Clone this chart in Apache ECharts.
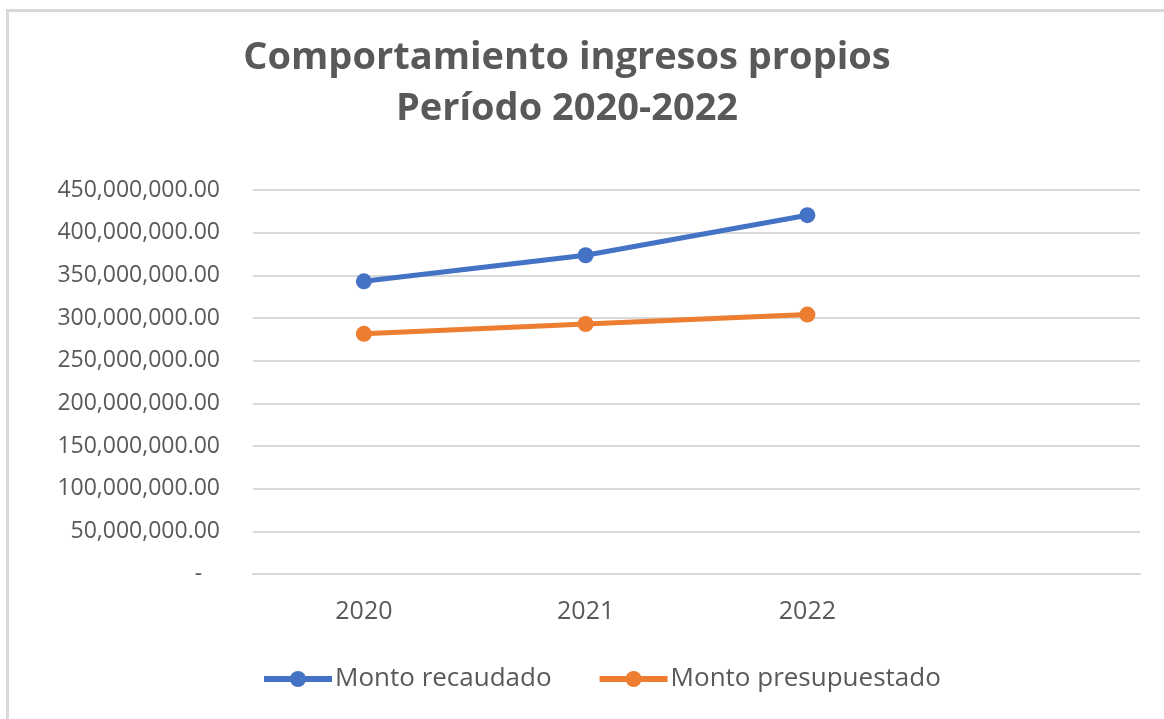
<!DOCTYPE html>
<html>
<head>
<meta charset="utf-8">
<title>Comportamiento ingresos propios</title>
<script src="https://cdn.jsdelivr.net/npm/echarts@6/dist/echarts.min.js"></script>
<style>
  html, body { margin: 0; padding: 0; background: #fff; }
  #chart { width: 1164px; height: 719px; }
</style>
</head>
<body>
<div id="chart"></div>
<script>
// datos
var years = ['2020', '2021', '2022', ''];
var montoRecaudado = [343000000, 373500000, 420500000, null];
var montoPresupuestado = [281500000, 293000000, 304000000, null];
var seriesNames = ['Monto recaudado', 'Monto presupuestado'];

var textColor = '#595959';
var gridColor = '#d9d9d9';

function fmtMoney(v) {
  if (v === 0) return '-   ';
  var s = v.toFixed(2);
  var parts = s.split('.');
  parts[0] = parts[0].replace(/\B(?=(\d{3})+(?!\d))/g, ',');
  return parts.join('.');
}

var chart = echarts.init(document.getElementById('chart'));

var option = {
  backgroundColor: '#fff',
  animation: false,
  textStyle: { fontFamily: 'Open Sans' },
  graphic: [{
    type: 'rect',
    shape: { x: 7.5, y: 10.5, width: 1170, height: 730 },
    style: { fill: 'none', stroke: gridColor, lineWidth: 3 },
    silent: true
  }],
  title: {
    text: 'Comportamiento ingresos propios\nPeríodo 2020-2022',
    left: 562,
    textAlign: 'center',
    top: 28,
    textStyle: {
      color: textColor,
      fontSize: 38,
      fontWeight: 'bold',
      fontFamily: 'Open Sans',
      lineHeight: 51
    }
  },
  legend: {
    data: seriesNames,
    bottom: 22,
    left: 256,
    itemWidth: 68,
    itemHeight: 20,
    itemGap: 45,
    lineStyle: { width: 6 },
    textStyle: { color: textColor, fontSize: 26, fontFamily: 'Open Sans', padding: [0, 0, 0, -2] }
  },
  grid: {
    left: 253,
    right: 24,
    top: 190,
    bottom: 145,
    containLabel: false
  },
  xAxis: {
    type: 'category',
    data: years,
    boundaryGap: true,
    axisLine: { show: true, lineStyle: { color: gridColor, width: 2 } },
    axisTick: { show: false },
    axisLabel: { color: textColor, fontSize: 25, margin: 25 }
  },
  yAxis: {
    type: 'value',
    min: 0,
    max: 450000000,
    interval: 50000000,
    axisLine: { show: false },
    axisTick: { show: false },
    axisLabel: {
      color: textColor,
      fontSize: 23,
      margin: 33,
      formatter: fmtMoney
    },
    splitLine: { lineStyle: { color: gridColor, width: 2 } }
  },
  series: [
    {
      name: seriesNames[0],
      type: 'line',
      data: montoRecaudado,
      symbol: 'circle',
      symbolSize: 16,
      color: '#4472C4',
      lineStyle: { width: 5, color: '#4472C4' },
      itemStyle: { color: '#4472C4' }
    },
    {
      name: seriesNames[1],
      type: 'line',
      data: montoPresupuestado,
      symbol: 'circle',
      symbolSize: 16,
      color: '#ED7D31',
      lineStyle: { width: 5, color: '#ED7D31' },
      itemStyle: { color: '#ED7D31' }
    }
  ]
};

chart.setOption(option);
</script>
</body>
</html>
